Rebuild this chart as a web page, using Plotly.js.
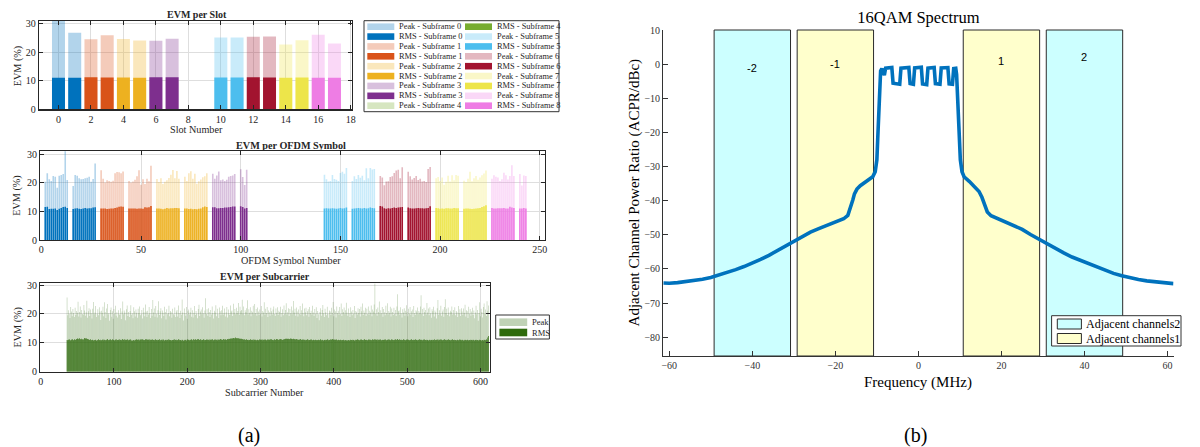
<!DOCTYPE html>
<html>
<head>
<meta charset="utf-8">
<script src="https://cdn.plot.ly/plotly-3.0.1.min.js"></script>
<style>
html,body{margin:0;padding:0;background:#fff;}
#chart{width:1200px;height:447px;}
</style>
</head>
<body>
<div id="chart"></div>
<script>
// ================= DATA =================
// EVM per slot
const slotNumbers = [0,1,2,3,4,5,6,7,8,9,10,11,12,13,14,15,16,17];
const slotPeak = [31.1,26.8,24.5,25.9,24.6,24.1,24.0,24.7,null,null,25.1,25.1,25.4,25.5,22.7,24.2,26.1,23.0];
const slotRms  = [11.0,11.0,11.2,11.1,11.1,11.0,11.2,11.2,null,null,11.1,11.1,11.2,11.1,11.0,11.1,11.0,11.0];
const subframeIds = [0,1,2,3,4,5,6,7,8];

// EVM per OFDM symbol (one group per measured slot)
const symSlot  = [0,1,2,3,4,5,6,7,10,11,12,13,14,15,16,17];
const symFirst = [2,16,30,44,58,72,86,100,142,156,170,184,198,212,226,240];
const symPeak = [
  [20.3,23.3,21.2,20.6,22.3,22.1,18.2,22.4,22.7,23.0,31.0,20.9],
  [18.8,22.7,22.4,21.5,21.2,21.3,21.5,21.7,22.1,20.3,21.3,26.7],
  [24.3,21.4,20.1,20.8,20.6,20.3,20.7,23.3,23.7,23.6,23.3,23.9],
  [20.6,20.1,20.4,21.0,22.2,24.3,19.3,21.2,19.5,21.4,20.5,25.9],
  [21.3,20.2,21.5,19.5,20.3,20.8,21.6,22.8,24.4,21.5,24.1,21.4],
  [22.1,20.6,23.3,24.0,21.4,23.1,19.6,20.5,21.1,21.9,22.2,23.3],
  [23.1,21.4,22.5,23.9,20.8,21.1,20.6,21.0,22.1,22.3,22.5,23.0],
  [24.7,22.0,19.2,24.5],
  [22.8,21.2,20.4,20.6,22.7,21.3,21.0,20.6,23.4,23.8,23.1,25.1],
  [20.6,22.2,21.3,22.7,21.7,22.4,20.8,25.0,21.5,25.1,24.6,24.8],
  [22.3,21.8,19.1,20.4,20.5,22.0,22.2,23.4,24.2,24.5,21.5,25.4],
  [23.8,22.2,21.1,21.6,22.3,20.9,21.4,20.4,20.6,20.2,24.8,25.5],
  [21.5,22.0,20.6,21.8,19.3,20.3,22.4,20.4,22.6,20.8,22.7,22.4],
  [20.7,20.2,21.4,23.8,20.5,21.5,22.3,21.0,21.8,22.6,23.2,24.2],
  [21.4,22.6,22.1,21.8,20.6,21.2,23.5,22.6,21.1,22.3,26.1,22.3],
  [23.0,19.0,22.5,22.3]
];
const symRms = [
  [11.5,11.6,10.8,10.9,10.9,11.0,10.5,10.9,11.2,11.5,11.6,11.2],
  [10.8,11.0,11.1,10.9,10.8,11.0,11.2,11.0,11.1,11.1,11.3,11.4],
  [11.0,11.0,11.0,10.8,10.9,11.0,11.0,11.2,11.3,11.6,11.7,11.6],
  [11.0,11.0,11.0,11.0,10.9,11.0,11.0,10.9,11.4,11.3,11.4,11.9],
  [11.0,11.0,10.9,10.7,10.9,11.2,11.0,11.1,11.1,11.2,11.2,11.1],
  [11.0,11.0,10.8,10.9,10.7,10.8,10.7,10.9,11.0,11.4,11.7,11.5],
  [11.4,11.4,11.1,11.1,11.2,11.2,11.3,11.3,11.4,11.5,11.7,11.7],
  [11.8,11.5,11.0,11.2],
  [11.0,11.1,11.0,11.0,11.1,11.0,10.9,11.0,11.2,11.0,11.1,11.3],
  [10.9,11.0,11.1,11.2,11.1,11.0,11.2,11.0,11.1,11.3,11.2,11.1],
  [11.9,11.7,11.1,10.9,11.1,11.0,11.2,11.3,11.2,11.3,11.4,11.5],
  [11.3,11.1,11.0,11.0,11.1,11.2,11.1,11.1,11.0,11.1,11.2,11.8],
  [11.2,11.1,10.9,11.0,10.9,11.1,11.1,11.0,11.0,11.2,11.1,11.1],
  [10.9,11.0,11.0,10.9,10.8,10.9,11.0,11.1,11.2,11.5,11.8,12.1],
  [11.2,11.0,11.0,11.1,11.1,11.1,11.2,11.0,11.0,11.6,11.3,11.2],
  [11.0,11.0,11.2,11.0]
];

// EVM per subcarrier (subcarriers 36..611)
const scFirst = 36;
const scPeak = (
 "25.7 19.5 21.3 20.1 18.6 22.4 20.8 19.2 21.7 20.3 18.9 22.1 19.6 21.0 20.4 24.2 19.1 20.7 22.6 18.8 21.4 20.0 19.7 23.1 " +
 "21.2 19.4 20.6 24.6 18.7 20.9 22.0 19.3 21.5 20.2 18.4 21.8 24.1 19.9 20.5 22.7 18.9 20.1 21.6 19.5 22.3 20.8 17.9 21.1 " +
 "20.4 22.5 19.2 24.0 20.7 18.6 21.9 23.4 19.8 20.3 17.6 21.4 22.2 19.0 20.9 18.3 21.7 20.1 22.8 19.4 20.6 18.8 21.3 20.0 " +
 "19.6 22.0 18.2 20.8 24.3 19.9 21.2 20.5 17.8 21.6 22.9 19.3 20.7 18.9 21.0 23.0 19.7 20.2 18.5 22.3 20.9 19.1 21.5 20.4 " +
 "18.7 21.8 20.3 22.6 19.5 20.0 21.4 18.4 22.1 20.6 19.2 23.3 20.8 18.9 21.1 19.8 22.4 20.2 18.6 21.7 19.4 24.8 20.5 21.9 " +
 "19.0 22.7 20.1 18.8 21.3 24.4 19.6 20.9 22.0 18.5 21.2 20.4 19.3 22.5 20.7 18.1 21.6 19.9 20.3 22.8 19.2 21.0 20.6 18.7 " +
 "21.8 20.0 19.5 22.2 18.9 20.8 21.4 19.1 22.9 20.3 18.6 21.1 19.7 25.0 20.5 17.7 21.9 20.2 19.4 22.4 18.3 20.9 21.5 19.8 " +
 "20.6 22.1 19.0 21.3 18.8 20.4 22.7 19.6 21.0 20.1 18.5 21.7 23.2 19.3 20.8 21.5 19.9 22.3 20.2 18.7 21.2 25.4 20.0 21.6 " +
 "19.4 22.0 20.7 18.9 21.4 19.8 22.6 20.3 18.4 21.1 20.5 23.0 19.2 21.8 20.0 18.6 22.2 20.9 19.5 21.3 22.8 19.7 20.4 21.9 " +
 "19.1 20.6 22.4 18.8 21.5 20.2 19.6 22.9 20.8 21.2 19.3 23.5 20.5 21.7 19.9 22.1 20.3 21.0 23.8 19.7 22.5 20.9 21.4 24.9 " +
 "20.1 22.6 19.5 21.3 20.7 22.0 24.7 19.8 21.6 20.4 22.3 19.2 21.1 20.6 22.8 19.9 23.4 20.3 21.7 19.4 22.2 20.8 19.6 21.5 " +
 "20.2 22.7 19.1 21.0 20.5 24.0 19.7 21.8 20.3 22.4 18.9 21.2 20.6 19.4 22.1 20.9 19.8 21.5 22.6 20.0 19.3 21.9 20.4 22.3 " +
 "19.6 21.1 20.7 22.5 19.0 20.3 21.6 19.5 22.9 20.1 21.4 23.7 19.8 20.6 22.0 19.3 21.7 20.2 22.6 19.9 21.2 24.5 20.5 21.8 " +
 "19.4 22.2 20.8 19.1 21.5 20.0 22.7 19.7 21.3 23.6 20.4 19.2 21.9 20.6 22.1 19.5 20.9 21.6 19.0 22.4 20.3 21.1 19.8 22.8 " +
 "20.5 19.3 21.7 20.1 22.3 18.6 21.0 19.9 17.8 20.7 22.0 19.4 21.4 23.1 20.2 18.9 21.8 20.6 19.5 22.5 20.0 18.7 21.2 20.8 " +
 "19.6 22.1 20.4 24.1 19.2 21.5 20.9 18.8 22.6 20.3 21.1 19.7 22.4 20.0 23.6 19.3 21.6 20.7 22.2 19.9 21.3 23.9 20.5 19.4 " +
 "21.9 20.2 18.9 22.3 20.8 19.5 21.4 20.1 22.7 18.6 21.0 20.6 19.8 22.0 20.3 21.7 19.1 22.5 20.9 23.6 19.6 21.2 20.4 22.1 " +
 "19.3 21.8 20.0 22.6 19.7 21.1 20.5 22.9 19.2 21.5 20.8 23.3 30.5 20.1 21.6 19.4 22.2 20.7 24.3 19.9 21.3 20.2 22.4 19.0 " +
 "21.7 20.6 19.5 22.8 20.3 23.7 19.8 21.0 20.4 22.5 19.1 21.9 20.7 19.6 22.1 20.0 21.4 19.3 22.6 26.8 20.9 21.2 19.7 22.3 " +
 "20.2 18.8 21.6 20.5 22.0 19.4 21.1 23.0 20.6 19.2 21.8 20.1 22.4 19.7 20.9 21.5 18.9 22.7 20.3 19.6 21.3 20.8 22.2 19.9 " +
 "21.0 20.4 22.6 26.5 20.0 21.7 19.3 22.1 20.7 21.4 19.8 23.8 20.5 21.9 19.5 22.3 20.2 18.7 21.6 20.9 22.5 19.1 21.2 20.6 " +
 "18.4 22.0 24.8 19.7 21.3 20.1 22.8 19.4 20.8 21.5 19.0 22.4 25.1 20.3 21.8 19.6 22.2 20.5 19.2 21.1 20.7 22.6 19.8 21.4 " +
 "20.0 22.3 19.5 21.0 20.6 18.9 22.7 20.2 21.6 19.3 22.0 20.8 19.7 21.9 20.4 23.2 19.1 21.3 20.9 18.6 22.5 20.1 21.7 19.4 " +
 "20.8 22.1 19.6 21.2 18.5 20.5 22.8 19.9 21.4 17.6 20.3 24.0 19.2 21.8 20.7 18.8 22.4 23.6 20.0 21.5 19.3 24.4 21.1 22.9"
).trim().split(/\s+/).map(Number);
const scRms = (
 "11.0 10.9 11.1 11.2 11.0 10.8 11.1 11.3 11.0 10.9 11.2 11.1 11.0 11.3 11.5 11.4 11.2 11.6 11.3 11.1 11.4 11.2 11.0 11.3 " +
 "11.7 11.5 11.6 11.4 11.3 11.2 11.1 11.0 11.2 10.9 11.0 11.1 10.8 11.0 10.9 11.1 10.7 11.0 10.9 11.2 11.0 10.8 11.1 10.9 " +
 "11.0 11.2 10.9 11.1 11.0 10.8 11.1 11.3 11.0 10.9 11.1 11.2 11.0 10.9 11.2 11.1 11.0 10.8 11.1 11.2 10.9 11.0 11.1 10.9 " +
 "11.2 11.0 10.9 11.1 11.3 11.0 11.2 10.9 11.1 11.0 11.2 11.1 10.9 11.0 11.2 11.1 10.8 10.7 10.9 11.0 10.8 11.1 11.0 11.2 " +
 "11.1 11.0 11.2 10.9 11.1 11.3 11.0 11.2 11.1 10.9 11.0 11.2 11.1 11.3 11.0 11.1 11.2 10.9 11.1 11.0 11.2 11.1 11.0 10.9 " +
 "11.1 11.2 11.0 10.9 11.1 11.0 11.2 10.8 11.0 11.1 10.9 11.2 11.0 10.8 11.0 11.1 10.9 11.0 11.2 10.9 11.1 11.0 10.8 10.9 " +
 "11.0 11.1 10.9 11.2 11.0 11.1 10.8 11.0 11.2 11.1 10.9 11.0 10.8 11.1 11.0 10.7 10.9 11.1 11.0 10.8 11.2 11.0 11.1 10.9 " +
 "11.1 11.0 11.2 10.9 11.1 11.3 11.0 11.2 11.1 11.0 11.2 11.3 11.1 11.0 11.2 10.9 11.1 11.0 11.2 11.1 10.9 11.0 11.1 11.2 " +
 "11.0 11.1 10.9 11.2 11.0 11.1 11.3 11.0 10.9 11.1 11.2 11.0 11.1 10.9 11.2 11.0 11.1 11.3 11.2 11.1 11.0 11.2 11.3 11.1 " +
 "11.2 11.0 11.1 11.3 11.2 11.4 11.3 11.5 11.4 11.6 11.5 11.7 11.6 11.5 11.8 11.6 11.7 11.5 11.6 11.4 11.5 11.3 11.4 11.2 " +
 "11.3 11.1 11.2 11.0 11.1 11.2 11.0 11.1 10.9 11.0 11.2 11.1 11.0 11.1 10.9 11.2 11.0 11.1 10.8 11.0 11.1 10.9 11.0 11.2 " +
 "11.1 11.0 11.2 10.9 11.1 11.0 11.2 11.1 10.9 11.0 11.2 11.1 11.0 11.3 11.1 11.2 11.0 11.1 10.9 11.2 11.0 11.1 11.3 11.2 " +
 "11.1 11.0 11.2 11.3 11.1 11.2 11.0 11.1 11.3 11.2 11.4 11.3 11.5 11.3 11.4 11.2 11.3 11.5 11.4 11.3 11.2 11.4 11.3 11.1 " +
 "11.2 11.3 11.1 11.2 11.0 11.1 11.3 11.2 11.0 11.1 11.2 11.0 11.1 10.9 11.1 11.0 11.2 11.1 10.9 11.0 11.1 11.2 11.0 10.9 " +
 "11.1 11.0 10.9 11.1 11.0 10.8 11.0 11.1 10.9 11.0 11.2 10.9 11.1 11.0 10.8 11.0 11.1 10.9 11.0 11.2 11.1 10.9 11.0 11.1 " +
 "11.2 11.1 11.3 11.0 11.2 11.1 11.0 11.2 11.1 10.9 11.1 11.0 10.9 11.1 11.0 10.8 11.0 11.1 10.9 10.8 11.0 10.9 10.7 10.9 " +
 "11.0 10.8 10.9 11.1 11.0 10.9 11.1 11.0 10.8 10.9 11.1 11.0 11.2 11.0 11.1 10.9 11.0 11.2 11.1 11.0 10.9 11.1 11.2 11.0 " +
 "11.1 11.0 10.9 11.1 11.2 11.0 11.1 10.9 11.0 11.2 11.1 11.0 11.3 11.1 11.0 11.2 10.9 11.1 11.0 11.2 11.1 10.9 11.0 11.1 " +
 "11.0 11.1 11.2 11.0 10.9 11.1 11.0 11.2 11.1 10.9 11.0 11.2 11.1 11.0 10.9 11.1 11.2 11.0 11.1 11.3 11.0 11.1 11.2 11.0 " +
 "11.1 10.9 11.0 11.2 11.1 11.0 10.9 11.1 11.2 11.0 11.1 10.9 11.0 11.1 11.2 11.0 10.9 11.1 11.0 11.2 11.1 11.0 10.9 11.1 " +
 "11.0 11.2 11.1 11.0 11.1 10.9 11.0 11.2 11.1 11.0 10.9 11.1 11.0 10.8 11.0 11.1 10.9 11.0 11.1 10.9 11.0 11.2 10.9 11.0 " +
 "11.1 11.0 11.2 10.9 11.1 11.0 11.2 11.1 10.9 11.0 11.1 11.2 11.0 11.1 10.9 11.0 11.2 11.1 11.0 10.9 11.1 11.0 11.2 11.0 " +
 "10.9 11.1 11.0 10.8 11.0 11.1 10.9 11.0 11.2 11.0 10.9 11.1 11.0 10.8 10.9 11.1 11.0 10.9 11.1 11.0 10.8 11.0 10.9 11.1 " +
 "11.0 10.9 11.1 11.0 10.8 11.0 11.1 10.9 11.0 10.8 10.9 11.1 11.0 10.7 10.9 11.0 10.8 11.1 11.0 10.9 11.2 11.0 11.8 12.4"
).trim().split(/\s+/).map(Number);

// 16QAM spectrum (frequency in MHz, ACPR in dBc)
const specFreq = [-61.44,-60,-58,-56,-54,-52,-50,-48,-46,-44,-42,-40,-38,-36,-34,-32,-30,-28,-26,-24,-22,-20,-18,-17,-16.3,-15.8,-15.4,-14.8,-14,-13,-12,-11,-10.4,-10.0,-9.8,-9.6,-9.45,-9.3,-9.1,-8.8,-8.5,-8.2,-7.9,-6.4,-6.1,-4.5,-4.2,-2.3,-2.0,-1.2,-0.9,0.7,1.0,2.0,2.3,3.8,4.1,5.2,5.5,7.1,7.4,8.2,8.5,9.0,9.2,9.4,9.6,9.8,10.1,10.5,11,12.3,13.5,14.6,15.3,15.9,16.6,17.5,19,21,23,25,27,29,31,33,35,37,39,41,43,45,47,49,51,53,55,57,59,61.44];
const specDb   = [-64.1,-64.2,-64.0,-63.7,-63.4,-63.0,-62.5,-61.8,-61.0,-60.2,-59.3,-58.3,-57.2,-56.0,-54.7,-53.3,-51.8,-50.6,-49.2,-48.2,-47.2,-46.4,-45.3,-44.3,-42.0,-39.8,-38.0,-36.6,-35.6,-34.8,-34.0,-33.0,-31.5,-28,-22,-15,-8,-3.8,-2.0,-1.3,-2.6,-3.2,-1.2,-1.0,-5.6,-5.9,-1.2,-1.0,-5.7,-5.9,-1.1,-0.9,-5.8,-6.0,-1.2,-1.0,-5.7,-5.9,-1.1,-1.0,-5.8,-5.9,-1.3,-1.2,-3,-8,-15,-22,-28,-31.5,-33,-34.4,-35.8,-37.3,-39,-41.4,-43.3,-44.4,-45.2,-46.1,-47.3,-48.4,-49.9,-51.3,-52.6,-53.9,-55.3,-56.5,-57.5,-58.5,-59.5,-60.5,-61.3,-62.0,-62.6,-63.1,-63.5,-63.8,-64.1,-64.3];
const chanEdges  = [[-49.2,-30.8],[-29.2,-10.8],[10.8,29.2],[30.8,49.2]];
const chanLabels = ['-2','-1','1','2'];
const chanGroup  = [2,1,1,2];
const chanLabelDb = [-1.2,0,1,2];
const chanLegend = ['Adjacent channels2','Adjacent channels1'];

// tick values
const slotTicks = [0,2,4,6,8,10,12,14,16,18];
const symTicks = [0,50,100,150,200,250];
const scTicks = [0,100,200,300,400,500,600];
const evmTicks = [0,10,20,30];
const freqTicks = [-60,-40,-20,0,20,40,60];
const dbTicks = [10,0,-10,-20,-30,-40,-50,-60,-70,-80];

// ================= STYLE =================
const W = 1200, H = 447;
const px = v => v / W;
const py = v => 1 - v / H;
const serif = "'Liberation Serif', 'Times New Roman', Times, serif";
const sans = "'Liberation Sans', Arial, Helvetica, sans-serif";
const axC = '#262626';
const rmsColors = ['#0072BD','#D95319','#EDB120','#7E2F8E','#77AC30','#4DBEEE','#A2142F','#EDE54A','#EE7DE4'];
function withAlpha(hex, a) {
  const r = parseInt(hex.slice(1,3),16), g = parseInt(hex.slice(3,5),16), b = parseInt(hex.slice(5,7),16);
  return `rgba(${r},${g},${b},${a})`;
}
const peakColors = rmsColors.map(c => withAlpha(c, 0.3));
const scRmsColor = '#2E6A0C';
const scPeakColor = withAlpha(scRmsColor, 0.3);
const chanFill = {1: '#FFFFCC', 2: '#CCFFFF'};
const specColor = '#0072BD';

// ================= TRACES =================
const traces = [];
// slot plot
subframeIds.forEach(k => {
  const xs = slotNumbers.filter(s => Math.floor(s / 2) === k);
  traces.push({type:'bar', xaxis:'x', yaxis:'y', x: xs, y: xs.map(s => slotPeak[s]), width:0.8,
    marker:{color: peakColors[k], line:{width:0}}, name:'Peak - Subframe ' + k, showlegend:false, hoverinfo:'skip'});
  traces.push({type:'bar', xaxis:'x', yaxis:'y', x: xs, y: xs.map(s => slotRms[s]), width:0.8,
    marker:{color: rmsColors[k], line:{width:0}}, name:'RMS - Subframe ' + k, showlegend:false, hoverinfo:'skip'});
});
// symbol plot
symSlot.forEach((slot, g) => {
  const k = Math.floor(slot / 2);
  traces.push({type:'bar', xaxis:'x2', yaxis:'y2', x: symPeak[g].map((_, i) => symFirst[g] + i), y: symPeak[g], width:0.8,
    marker:{color: peakColors[k], line:{width:0}}, showlegend:false, hoverinfo:'skip'});
  traces.push({type:'bar', xaxis:'x2', yaxis:'y2', x: symRms[g].map((_, i) => symFirst[g] + i), y: symRms[g], width:0.8,
    marker:{color: rmsColors[k], line:{width:0}}, showlegend:false, hoverinfo:'skip'});
});
// subcarrier plot
traces.push({type:'bar', xaxis:'x3', yaxis:'y3', x: scPeak.map((_, i) => scFirst + i), y: scPeak, width:0.92,
  marker:{color: scPeakColor, line:{width:0}}, name:'Peak', showlegend:false, hoverinfo:'skip'});
traces.push({type:'bar', xaxis:'x3', yaxis:'y3', x: scRms.map((_, i) => scFirst + i), y: scRms, width:0.92,
  marker:{color: scRmsColor, line:{width:0}}, name:'RMS', showlegend:false, hoverinfo:'skip'});
// spectrum
traces.push({type:'scatter', mode:'lines', xaxis:'x4', yaxis:'y4', x: specFreq, y: specDb,
  line:{color: specColor, width:3.6}, showlegend:false, hoverinfo:'skip'});

// ================= AXES =================
function leftX(dom, range, ticks, anchor) {
  return {domain: dom, range: range, tickvals: ticks, anchor: anchor, ticks:'inside', ticklen:4, tickcolor: axC, tickwidth:1,
    showline:true, linecolor: axC, linewidth:1.2, mirror:'allticks', showgrid:true, gridcolor:'#DEDEDE', gridwidth:1,
    zeroline:false, tickfont:{family: serif, size:10, color: axC}, fixedrange:true};
}
function leftY(dom, range, anchor) {
  return {domain: dom, range: range, tickvals: evmTicks, anchor: anchor, ticks:'inside', ticklen:4, tickcolor: axC, tickwidth:1,
    showline:true, linecolor: axC, linewidth:1.2, mirror:'allticks', showgrid:true, gridcolor:'#DEDEDE', gridwidth:1,
    zeroline:false, tickfont:{family: serif, size:10, color: axC}, fixedrange:true};
}

const layout = {
  width: W, height: H, margin:{l:0, r:0, t:0, b:0}, paper_bgcolor:'#fff', plot_bgcolor:'rgba(0,0,0,0)',
  barmode:'overlay', showlegend:false,
  font:{family: serif},
  title:{text:'16QAM Spectrum', x: px(918.5), xref:'paper', xanchor:'center', y: py(17.5), yref:'paper', yanchor:'middle',
    font:{family: serif, size:16.5, color:'#000'}},
  xaxis:  leftX([px(39), px(352)], [-1.2, 18.08], slotTicks, 'y'),
  yaxis:  leftY([py(109.3), py(20.7)], [0, 31], 'x'),
  xaxis2: leftX([px(40.3), px(544.8)], [-0.5, 252.5], symTicks, 'y2'),
  yaxis2: leftY([py(240), py(150.7)], [0, 31.15], 'x2'),
  xaxis3: leftX([px(40.3), px(489.6)], [-0.5, 612.5], scTicks, 'y3'),
  yaxis3: leftY([py(371.7), py(283.3)], [0, 30.6], 'x3'),
  xaxis4: {domain:[px(663.3), px(1173.5)], range:[-61.44, 61.44], tickvals: freqTicks, anchor:'y4', ticks:'inside', ticklen:5,
    tickcolor:'#333', showline:true, linecolor:'#333', linewidth:1.2, mirror:false, showgrid:false, zeroline:false,
    tickfont:{family: serif, size:10, color:'#333'}, fixedrange:true},
  yaxis4: {domain:[py(356), py(30)], range:[-85.5, 10], tickvals: dbTicks, anchor:'x4', ticks:'inside', ticklen:5,
    tickcolor:'#333', showline:true, linecolor:'#333', linewidth:1.2, mirror:false, showgrid:false, zeroline:false,
    tickfont:{family: serif, size:10, color:'#333'}, fixedrange:true},
  shapes: [],
  annotations: []
};

function txt(text, x, y, size, opts) {
  return Object.assign({text: text, x: px(x), y: py(y), xref:'paper', yref:'paper', showarrow:false,
    xanchor:'center', yanchor:'middle', font:{family: serif, size: size, color: axC}}, opts || {});
}
const A = layout.annotations, S = layout.shapes;

// subplot titles and axis titles (left panel)
A.push(txt('<b>EVM per Slot</b>', 196.5, 15, 10));
A.push(txt('Slot Number', 196, 129.3, 10.2));
A.push(txt('EVM (%)', 18.3, 66, 10.2, {textangle:-90}));
A.push(txt('<b>EVM per OFDM Symbol</b>', 290.5, 145, 10.2));
A.push(txt('OFDM Symbol Number', 290.8, 260, 10.2));
A.push(txt('EVM (%)', 16.8, 196, 10.2, {textangle:-90}));
A.push(txt('<b>EVM per Subcarrier</b>', 264.5, 276.2, 10));
A.push(txt('Subcarrier Number', 264.5, 392.7, 10.2));
A.push(txt('EVM (%)', 17.5, 328, 10.2, {textangle:-90}));
A.push(txt('(a)', 248.6, 435, 20, {font:{family: serif, size:20, color:'#000'}}));
A.push(txt('(b)', 915.7, 435, 20, {font:{family: serif, size:20, color:'#000'}}));

// spectrum axis titles
A.push(txt('Frequency (MHz)', 918.4, 382.7, 15, {font:{family: serif, size:15, color:'#000'}}));
A.push(txt('Adjacent Channel Power Ratio (ACPR/dBc)', 634.4, 193, 15, {textangle:-90, font:{family: serif, size:15, color:'#000'}}));

// legend for slot plot (two columns)
const legEntries = [];
subframeIds.forEach(k => { legEntries.push(['Peak', k]); legEntries.push(['RMS', k]); });
S.push({type:'rect', xref:'paper', yref:'paper', x0: px(364), x1: px(559), y0: py(111.7), y1: py(20.7),
  line:{color:'#333', width:1}, fillcolor:'#fff', layer:'above'});
legEntries.forEach((e, i) => {
  const col = Math.floor(i / 9), row = i % 9;
  const sx = col === 0 ? 367.3 : 465, yc = 26.7 + row * 9.875;
  S.push({type:'rect', xref:'paper', yref:'paper', x0: px(sx), x1: px(sx + 27), y0: py(yc + 3.3), y1: py(yc - 3.3),
    line:{width:0}, fillcolor: e[0] === 'Peak' ? peakColors[e[1]] : rmsColors[e[1]], layer:'above'});
  A.push(txt(e[0] + ' - Subframe ' + e[1], sx + 30, yc, 8.4, {xanchor:'left'}));
});

// legend for subcarrier plot
S.push({type:'rect', xref:'paper', yref:'paper', x0: px(495.7), x1: px(549.4), y0: py(339), y1: py(315),
  line:{color:'#333', width:1}, fillcolor:'#fff', layer:'above'});
[['Peak', scPeakColor, 322.2], ['RMS', scRmsColor, 332.5]].forEach(e => {
  S.push({type:'rect', xref:'paper', yref:'paper', x0: px(499.4), x1: px(527.2), y0: py(e[2] + 3.8), y1: py(e[2] - 3.8),
    line:{width:0}, fillcolor: e[1], layer:'above'});
  A.push(txt(e[0], 529.5, e[2], 8.5, {xanchor:'left'}));
});

// adjacent channel boxes
chanEdges.forEach((ed, i) => {
  S.push({type:'rect', xref:'x4', yref:'y4 domain', x0: ed[0], x1: ed[1], y0: 0, y1: 1,
    fillcolor: chanFill[chanGroup[i]], line:{color:'#2B2B2B', width:1}, layer:'below'});
  A.push({text: chanLabels[i], x: (ed[0] + ed[1]) / 2, y: chanLabelDb[i], xref:'x4', yref:'y4', showarrow:false,
    xanchor:'center', yanchor:'middle', font:{family: sans, size:11, color:'#000'}});
});

// legend for spectrum
S.push({type:'rect', xref:'paper', yref:'paper', x0: px(1051.6), x1: px(1181), y0: py(346), y1: py(315.7),
  line:{color:'#333', width:1}, fillcolor:'#fff', layer:'above'});
[[chanLegend[0], chanFill[2], 324], [chanLegend[1], chanFill[1], 338.5]].forEach(e => {
  S.push({type:'rect', xref:'paper', yref:'paper', x0: px(1057.3), x1: px(1081.4), y0: py(e[2] + 5), y1: py(e[2] - 5),
    line:{color:'#2B2B2B', width:1}, fillcolor: e[1], layer:'above'});
  A.push(txt(e[0], 1083.5, e[2], 12, {xanchor:'left', font:{family: serif, size:12, color:'#000'}}));
});

Plotly.newPlot('chart', traces, layout, {displayModeBar:false, staticPlot:true});
</script>
</body>
</html>
